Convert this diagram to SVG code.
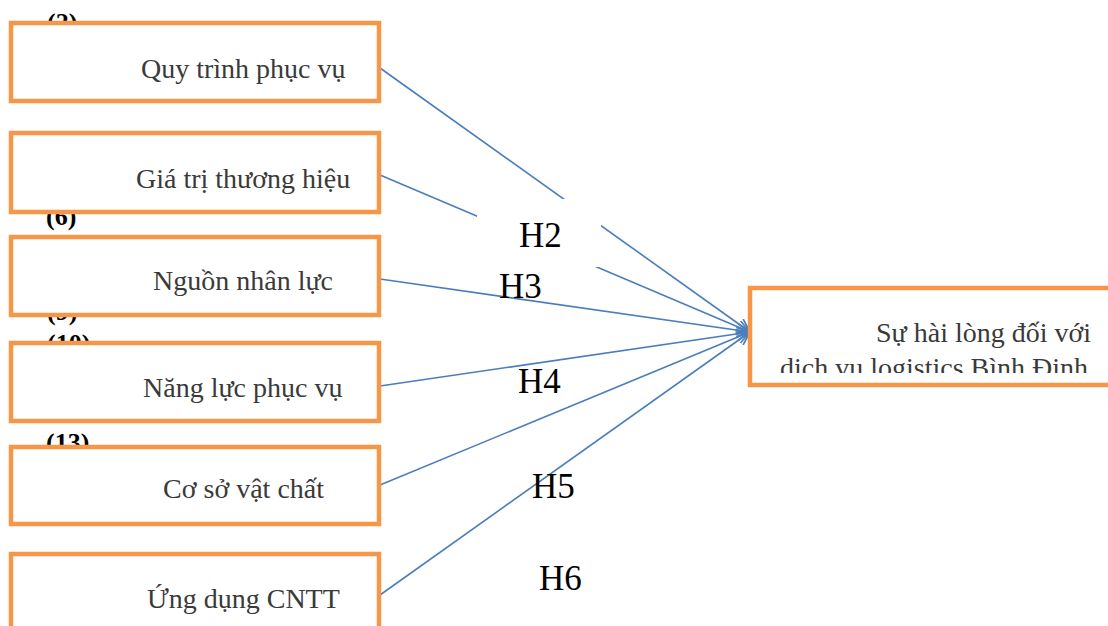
<svg xmlns="http://www.w3.org/2000/svg" width="1108" height="626" viewBox="0 0 1108 626">
  <style>
    text { font-family: "Liberation Serif", "Times New Roman", Times, serif; }
    .box { fill: #ffffff; stroke: #F79646; stroke-width: 4.5; }
    .lbl { font-size: 28px; fill: #3a3a3a; }
    .num { font-size: 26px; font-weight: bold; fill: #000000; }
    .hyp { font-size: 35px; fill: #000000; }
    .link { fill: none; stroke: #4A7EBB; stroke-width: 1.6; marker-end: url(#open); }
  </style>
  <defs>
    <marker id="open" markerUnits="userSpaceOnUse" markerWidth="18" markerHeight="16" refX="14" refY="7" orient="auto">
      <path d="M1,0.5 L14,7 L1,13.5" fill="none" stroke="#4A7EBB" stroke-width="1.7"/>
    </marker>
    <clipPath id="outClip">
      <rect x="752" y="290" width="356" height="83"/>
    </clipPath>
  </defs>

  <rect width="1108" height="626" fill="#ffffff"/>

  <!-- item numbers, partly covered by the boxes -->
  <g id="numbers">
    <text class="num" x="47" y="31">(2)</text>
    <text class="num" x="46" y="225">(6)</text>
    <text class="num" x="47" y="320">(9)</text>
    <text class="num" x="47" y="352">(10)</text>
    <text class="num" x="46" y="451">(13)</text>
  </g>

  <!-- connectors -->
  <g id="connectors">
    <line class="link" x1="380" y1="68" x2="750" y2="332"/>
    <line class="link" x1="380" y1="175" x2="750" y2="332"/>
    <line class="link" x1="380" y1="279" x2="750" y2="332"/>
    <line class="link" x1="380" y1="386" x2="750" y2="332"/>
    <line class="link" x1="380" y1="485" x2="750" y2="332"/>
    <line class="link" x1="380" y1="595" x2="750" y2="332"/>
  </g>

  <!-- hypothesis labels -->
  <g id="hypotheses">
    <rect x="477" y="199" width="124" height="68" fill="#ffffff"/>
    <text class="hyp" x="519" y="247">H2</text>
    <text class="hyp" x="499" y="298">H3</text>
    <text class="hyp" x="518" y="393">H4</text>
    <text class="hyp" x="532" y="498">H5</text>
    <text class="hyp" x="539" y="590">H6</text>
  </g>

  <g id="n1">
    <rect class="box" x="11" y="23" width="368" height="78"/>
    <text class="lbl" x="141" y="78">Quy trình phục vụ</text>
  </g>
  <g id="n2">
    <rect class="box" x="11" y="133" width="368" height="79"/>
    <text class="lbl" x="136" y="188">Giá trị thương hiệu</text>
  </g>
  <g id="n3">
    <rect class="box" x="11" y="237" width="368" height="78"/>
    <text class="lbl" x="153" y="290">Nguồn nhân lực</text>
  </g>
  <g id="n4">
    <rect class="box" x="11" y="343" width="368" height="78"/>
    <text class="lbl" x="143" y="397">Năng lực phục vụ</text>
  </g>
  <g id="n5">
    <rect class="box" x="11" y="447" width="368" height="77"/>
    <text class="lbl" x="163" y="498">Cơ sở vật chất</text>
  </g>
  <g id="n6">
    <rect class="box" x="11" y="554" width="368" height="90"/>
    <text class="lbl" x="147" y="608">Ứng dụng CNTT</text>
  </g>

  <g id="outcome">
    <rect class="box" x="750" y="288" width="380" height="97"/>
    <g clip-path="url(#outClip)">
      <text class="lbl" x="876" y="342">Sự hài lòng đối với</text>
      <text class="lbl" x="780" y="377">dịch vụ logistics Bình Định</text>
    </g>
  </g>
</svg>
